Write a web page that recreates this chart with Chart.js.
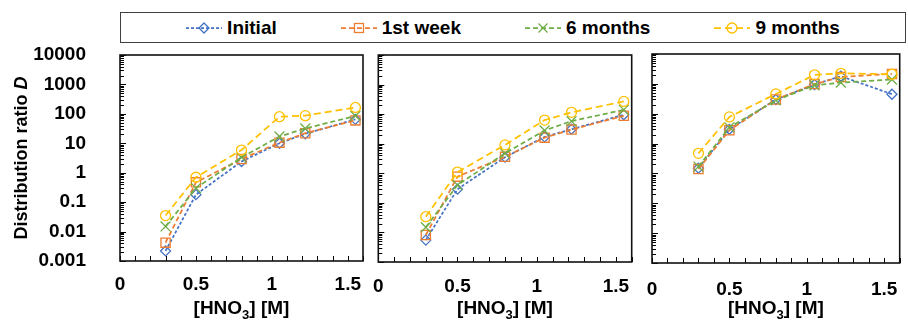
<!DOCTYPE html>
<html>
<head>
<meta charset="utf-8">
<script src="https://cdn.jsdelivr.net/npm/chart.js@4"></script>
<style>
  html, body { margin: 0; padding: 0; background: #fff; }
  #wrap { position: relative; width: 908px; height: 322px; overflow: hidden;
          font-family: "Liberation Sans", Arial, sans-serif; }
  #wrap canvas { position: absolute; top: 40px; }
  #legend { position: absolute; left: 120px; top: 12px; width: 786px; height: 31px; box-sizing: border-box;
            border: 1.5px solid #404040; background: #fff; display: flex; justify-content: center;
            align-items: center; gap: 64px; font: bold 19px "Liberation Sans", Arial, sans-serif; color: #000; }
  .item { display: flex; align-items: center; }
  .item svg { margin-right: 5px; }
</style>
</head>
<body>
<div id="wrap">
  <div id="legend"></div>
  <canvas id="c1" width="372" height="282" style="left:0px"></canvas>
  <canvas id="c2" width="270" height="282" style="left:370px"></canvas>
  <canvas id="c3" width="268" height="282" style="left:640px"></canvas>
</div>
<script>
// [HNO3] concentrations (M)
const concentrations = [0.3, 0.5, 0.8, 1.05, 1.22, 1.55];
const seriesNames = ['Initial', '1st week', '6 months', '9 months'];

// left panel
const leftInitial  = [0.0022, 0.18, 2.4, 10, 21, 65];
const leftWeek     = [0.0042, 0.47, 2.9, 10.5, 22, 60];
const leftSix      = [0.015, 0.30, 3.3, 17, 32, 85];
const leftNine     = [0.035, 0.70, 5.9, 80, 87, 165];

// middle panel
const midInitial   = [0.0055, 0.29, 3.5, 17, 31, 95];
const midWeek      = [0.0082, 0.77, 3.6, 16, 30, 88];
const midSix       = [0.015, 0.40, 4.7, 28, 58, 140];
const midNine      = [0.034, 1.1, 9.1, 63, 115, 270];

// right panel
const rightInitial = [1.5, 30, 300, 950, 1800, 450];
const rightWeek    = [1.4, 28, 300, 980, 1700, 2150];
const rightSix     = [1.7, 35, 280, 900, 1100, 1400];
const rightNine    = [4.7, 78, 460, 2000, 2250, 2100];

const xTitleParts = ['[HNO', '3', '] [M]'];
const yTitleParts = ['Distribution ratio ', 'D'];

// styles
const seriesColors = ['#4472C4', '#ED7D31', '#70AD47', '#FFC000'];
const seriesDash = [[3, 2], [5, 3], [5, 3], [7, 4]];
const seriesMarker = ['rectRot', 'rect', 'crossRot', 'circle'];
const markerRadius = [5, 6.5, 7, 5];
const FONT = '"Liberation Sans", Arial, sans-serif';

function isDecade(v) {
  const l = Math.log10(v);
  return Math.abs(l - Math.round(l)) < 1e-6;
}

// frame box + inward tick marks
const frameAndTicks = {
  id: 'frameAndTicks',
  afterDraw(chart) {
    const { ctx, chartArea: a, scales: { x, y } } = chart;
    ctx.save();
    ctx.strokeStyle = '#000';
    ctx.lineWidth = 1;
    ctx.beginPath();
    x.ticks.forEach(t => {
      const px = Math.round(x.getPixelForValue(t.value)) + 0.5;
      ctx.moveTo(px, a.bottom);
      ctx.lineTo(px, a.bottom - 5);
    });
    y.ticks.forEach(t => {
      const py = Math.round(y.getPixelForValue(t.value)) + 0.5;
      ctx.moveTo(a.left, py);
      ctx.lineTo(a.left + (isDecade(t.value) ? 6 : 4), py);
    });
    ctx.stroke();
    ctx.lineWidth = 1.6;
    ctx.strokeStyle = '#111';
    ctx.strokeRect(a.left, a.top, a.right - a.left, a.bottom - a.top);
    ctx.restore();
  }
};

// axis titles with subscript / italic parts
const axisTitles = {
  id: 'axisTitles',
  afterDraw(chart, args, opts) {
    const { ctx, chartArea: a } = chart;
    ctx.save();
    ctx.fillStyle = '#000';
    ctx.textBaseline = 'alphabetic';
    ctx.textAlign = 'left';
    const big = 'bold 19px ' + FONT;
    const small = 'bold 13px ' + FONT;
    ctx.font = big;
    const w1 = ctx.measureText(xTitleParts[0]).width;
    const w3 = ctx.measureText(xTitleParts[2]).width;
    ctx.font = small;
    const w2 = ctx.measureText(xTitleParts[1]).width;
    let left = (a.left + a.right) / 2 - (w1 + w2 + w3) / 2;
    const base = opts.xBase;
    ctx.font = big;
    ctx.fillText(xTitleParts[0], left, base);
    ctx.font = small;
    ctx.fillText(xTitleParts[1], left + w1, base + 5);
    ctx.font = big;
    ctx.fillText(xTitleParts[2], left + w1 + w2, base);

    if (opts.showY) {
      const f1 = 'bold 18px ' + FONT;
      const f2 = 'italic bold 18px ' + FONT;
      ctx.font = f1;
      const y1 = ctx.measureText(yTitleParts[0]).width;
      ctx.font = f2;
      const y2 = ctx.measureText(yTitleParts[1]).width;
      ctx.translate(27, (a.top + a.bottom) / 2);
      ctx.rotate(-Math.PI / 2);
      ctx.font = f1;
      ctx.fillText(yTitleParts[0], -(y1 + y2) / 2, 0);
      ctx.font = f2;
      ctx.fillText(yTitleParts[1], -(y1 + y2) / 2 + y1, 0);
    }
    ctx.restore();
  }
};

function makeDatasets(values) {
  return values.map((vals, i) => ({
    label: seriesNames[i],
    data: concentrations.map((x, k) => ({ x, y: vals[k] })),
    borderColor: seriesColors[i],
    borderWidth: 1.75,
    borderDash: seriesDash[i],
    pointStyle: seriesMarker[i],
    pointRadius: markerRadius[i],
    pointBorderColor: seriesColors[i],
    pointBackgroundColor: 'rgba(0,0,0,0)',
    pointBorderWidth: 1.3,
    tension: 0,
    clip: false,
    order: -i
  }));
}

function makePanel(id, values, cfg) {
  const tickFont = { family: FONT, size: 19, weight: 'bold' };
  return new Chart(document.getElementById(id), {
    type: 'line',
    data: { datasets: makeDatasets(values) },
    options: {
      responsive: false,
      animation: false,
      events: [],
      layout: { padding: { top: cfg.top, right: cfg.right, left: 0, bottom: 0 } },
      plugins: {
        legend: { display: false },
        tooltip: { enabled: false },
        axisTitles: { showY: cfg.showY, xBase: cfg.xBase }
      },
      scales: {
        x: {
          type: 'linear', min: 0, max: 1.6,
          border: { display: false },
          grid: { display: false, drawTicks: false },
          ticks: {
            stepSize: 0.1, autoSkip: false, maxRotation: 0, padding: cfg.xPad,
            color: '#000', font: tickFont,
            callback: v => Math.abs(v * 2 - Math.round(v * 2)) < 1e-6 ? String(Math.round(v * 2) / 2) : ''
          },
          afterFit: s => {
            s.height = cfg.xHeight;
            s.paddingLeft = 0;
            s.paddingRight = 0;
          }
        },
        y: {
          type: 'logarithmic', min: 0.001, max: 10000,
          border: { display: false },
          grid: { display: false, drawTicks: false },
          ticks: {
            display: cfg.showY, autoSkip: false, padding: 34,
            color: '#000', font: tickFont,
            callback: v => isDecade(v) ? String(Number(v.toPrecision(1))) : ''
          },
          afterBuildTicks: s => {
            s.ticks = s.ticks.filter(t => {
              const m = t.value / Math.pow(10, Math.floor(Math.log10(t.value) + 1e-9));
              return Math.abs(m - 1.5) > 1e-6;
            });
          },
          afterFit: s => {
            s.width = cfg.yWidth;
            s.paddingTop = 0;
            s.paddingBottom = 0;
          }
        }
      }
    },
    plugins: [frameAndTicks, axisTitles]
  });
}

makePanel('c1', [leftInitial, leftWeek, leftSix, leftNine],
  { top: 15, right: 9, yWidth: 120, xHeight: 61, xPad: 12, showY: true, xBase: 274 });
makePanel('c2', [midInitial, midWeek, midSix, midNine],
  { top: 15, right: 4, yWidth: 6, xHeight: 60, xPad: 13, showY: false, xBase: 274 });
makePanel('c3', [rightInitial, rightWeek, rightSix, rightNine],
  { top: 14, right: 1, yWidth: 12, xHeight: 59, xPad: 15, showY: false, xBase: 274 });

// legend
const legendEl = document.getElementById('legend');
const markerSvg = [
  '<polygon points="18,2 23,7 18,12 13,7" />',
  '<rect x="13.5" y="2.5" width="9" height="9" />',
  '<path d="M13.5 2.5 L22.5 11.5 M22.5 2.5 L13.5 11.5" />',
  '<circle cx="18" cy="7" r="5" />'
];
seriesNames.forEach((name, i) => {
  const item = document.createElement('div');
  item.className = 'item';
  item.innerHTML =
    '<svg width="36" height="14" viewBox="0 0 36 14">' +
    '<line x1="0" y1="7" x2="36" y2="7" stroke="' + seriesColors[i] + '" stroke-width="1.75" stroke-dasharray="' + seriesDash[i].join(',') + '" />' +
    '<g fill="none" stroke="' + seriesColors[i] + '" stroke-width="1.3">' + markerSvg[i] + '</g></svg>' +
    '<span>' + name + '</span>';
  legendEl.appendChild(item);
});
</script>
</body>
</html>
